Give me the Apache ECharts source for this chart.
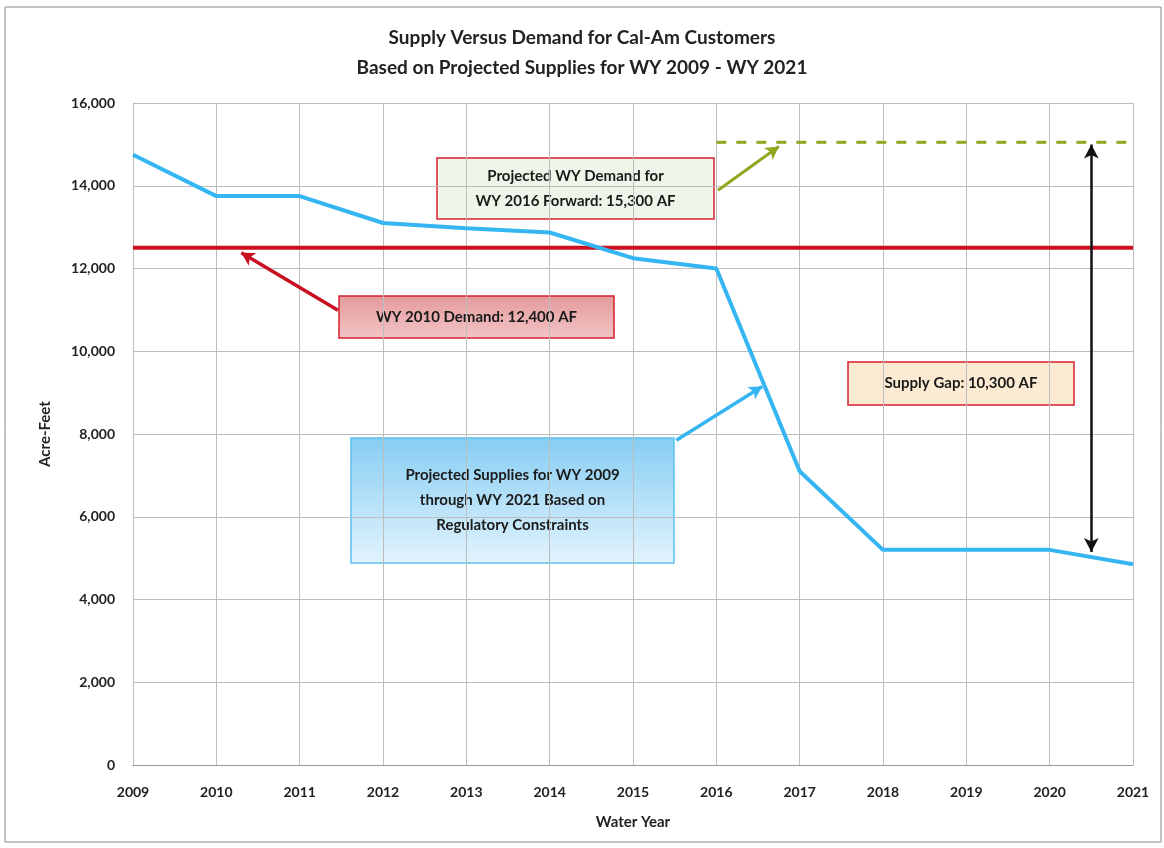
<!DOCTYPE html>
<html>
<head>
    <meta charset="utf-8" />
    <title>Supply Versus Demand</title>
    <script src="https://cdn.jsdelivr.net/npm/echarts@6/dist/echarts.min.js"></script>
    <style type="text/css">
        body { margin: 0; padding: 0; background: #fff; }
        #main { width: 1164px; height: 848px; }
    </style>
</head>
<body>
    <div id="main"></div>
    <script type="text/javascript">
        // data
        var years = [2009, 2010, 2011, 2012, 2013, 2014, 2015, 2016, 2017, 2018, 2019, 2020, 2021];
        var supply = [14750, 13750, 13750, 13100, 12970, 12870, 12250, 12000, 7100, 5200, 5200, 5200, 4850];
        var demand2010 = 12500;      // drawn level of the 12,400 AF line
        var demandForward = 15050;   // drawn level of the 15,300 AF line
        var forwardStart = 2016;
        var gapYear = 2020.5;
        var gapRange = [5150, 15000];
        var yTicks = [0, 16000, 2000];

        var font = 'Lato, "Open Sans", sans-serif';
        var myChart = echarts.init(document.getElementById('main'));

        function pairs(xs, ys) {
            return xs.map(function (x, i) { return [x, ys[i]]; });
        }

        // 注释框
        function noteBox(x, y, w, h, lines, fill, stroke) {
            return {
                type: 'group', x: x, y: y,
                children: [
                    { type: 'rect', shape: { width: w, height: h }, style: { fill: fill, stroke: stroke, lineWidth: 1.5 } },
                    {
                        type: 'text', x: w / 2, y: h / 2,
                        style: {
                            text: lines.join('\n'), fill: '#1a1a1a', font: 'bold 15px ' + font,
                            align: 'center', verticalAlign: 'middle', lineHeight: 25
                        }
                    }
                ]
            };
        }

        function arrowLine(from, to, color, width) {
            return {
                type: 'line', data: [], silent: true,
                markLine: {
                    silent: true, symbol: ['none', 'arrow'], symbolSize: [11, 13],
                    label: { show: false },
                    lineStyle: { color: color, width: width, type: 'solid' },
                    data: [[{ coord: from }, { coord: to }]]
                }
            };
        }

        var option = {
            animation: false,
            backgroundColor: '#fff',
            title: {
                text: 'Supply Versus Demand for Cal-Am Customers\nBased on Projected Supplies for WY 2009 - WY 2021',
                left: 'center', top: 18,
                textStyle: { fontFamily: font, fontSize: 19, fontWeight: 'bold', color: '#222', lineHeight: 30 }
            },
            grid: { left: 133, right: 31, top: 103, bottom: 83 },
            xAxis: {
                type: 'value', min: 2009, max: 2021, interval: 1,
                name: 'Water Year', nameLocation: 'middle', nameGap: 50,
                nameTextStyle: { fontFamily: font, fontSize: 15, fontWeight: 'bold', color: '#222' },
                axisLine: { lineStyle: { color: '#999' } },
                axisTick: { show: false },
                splitLine: { show: true, lineStyle: { color: '#bdbdbd' } },
                axisLabel: {
                    formatter: function (v) { return String(v); }, margin: 20,
                    fontFamily: font, fontSize: 14, fontWeight: 'bold', color: '#222'
                }
            },
            yAxis: {
                type: 'value', min: yTicks[0], max: yTicks[1], interval: yTicks[2],
                name: 'Acre-Feet', nameLocation: 'middle', nameGap: 80,
                nameTextStyle: { fontFamily: font, fontSize: 15, fontWeight: 'bold', color: '#222' },
                axisLine: { show: true, lineStyle: { color: '#bdbdbd' } },
                axisTick: { show: false },
                splitLine: { show: true, lineStyle: { color: '#bdbdbd' } },
                axisLabel: {
                    formatter: function (v) { return v.toLocaleString('en-US'); }, margin: 18,
                    fontFamily: font, fontSize: 14, fontWeight: 'bold', color: '#222'
                }
            },
            series: [
                {
                    name: 'WY 2010 Demand', type: 'line', symbol: 'none', z: 3,
                    lineStyle: { color: '#cc0f1f', width: 4 },
                    data: pairs([years[0], years[years.length - 1]], [demand2010, demand2010])
                },
                {
                    name: 'Projected Demand', type: 'line', symbol: 'none', z: 3,
                    lineStyle: { color: '#8ea820', width: 3, type: [10, 10] },
                    data: pairs([forwardStart, years[years.length - 1]], [demandForward, demandForward])
                },
                {
                    name: 'Projected Supplies', type: 'line', symbol: 'none', z: 4,
                    lineStyle: { color: '#35b6f2', width: 4 },
                    data: pairs(years, supply)
                },
                {
                    name: 'Supply Gap', type: 'line', data: [], silent: true,
                    markLine: {
                        silent: true, symbol: ['arrow', 'arrow'], symbolSize: [11, 14],
                        label: { show: false },
                        lineStyle: { color: '#111', width: 2.5, type: 'solid' },
                        data: [[{ coord: [gapYear, gapRange[0]] }, { coord: [gapYear, gapRange[1]] }]]
                    }
                },
                arrowLine([2011.46, 10990], [2010.3, 12380], '#c81020', 3.5),
                arrowLine([2016.02, 13890], [2016.75, 14950], '#8ea820', 3),
                arrowLine([2015.52, 7850], [2016.55, 9150], '#35b6f2', 3.5)
            ],
            graphic: [
                {
                    type: 'rect', shape: { x: 5, y: 7, width: 1156, height: 835 },
                    style: { fill: 'none', stroke: '#8a8a8a', lineWidth: 1 }, z: -1
                },
                noteBox(437, 158, 277, 61, ['Projected WY Demand for', 'WY 2016 Forward: 15,300 AF'], '#eef6ea', '#d7202e'),
                noteBox(339, 296, 275, 42, ['WY 2010 Demand: 12,400 AF'],
                    new echarts.graphic.LinearGradient(0, 0, 0, 1, [
                        { offset: 0, color: '#e49a9c' }, { offset: 1, color: '#f3c4c5' }
                    ]), '#d7202e'),
                noteBox(351, 438, 323, 125, ['Projected Supplies for WY 2009', 'through WY 2021 Based on', 'Regulatory Constraints'],
                    new echarts.graphic.LinearGradient(0, 0, 0, 1, [
                        { offset: 0, color: '#86cdf3' }, { offset: 1, color: '#e3f4fd' }
                    ]), '#5cc0f0'),
                noteBox(848, 362, 226, 43, ['Supply Gap: 10,300 AF'], '#fcebd2', '#d7202e')
            ]
        };
        myChart.setOption(option);
    </script>
</body>
</html>
